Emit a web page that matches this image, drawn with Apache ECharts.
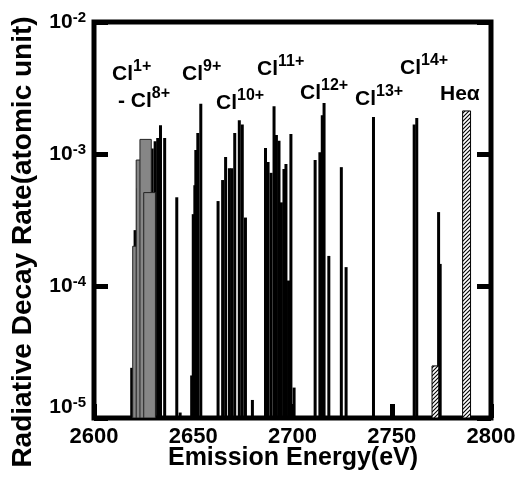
<!DOCTYPE html>
<html>
<head>
<meta charset="utf-8">
<script src="https://cdn.jsdelivr.net/npm/echarts@6/dist/echarts.min.js"></script>
<style>
html, body { margin: 0; padding: 0; background: #fff; }
#chart { width: 522px; height: 481px; }
</style>
</head>
<body>
<div id="chart"></div>
<script>
// transition lines (eV, atomic unit)
var lineEnergy = [2619.0, 2620.7, 2622.0, 2629.3, 2630.8, 2632.1, 2633.5, 2635.6,
  2641.7, 2643.4,
  2649.2, 2650.0, 2650.8, 2651.3, 2652.3, 2653.8,
  2662.5, 2664.8, 2666.3, 2668.2, 2669.4, 2670.9, 2673.2, 2674.7, 2676.3, 2679.8,
  2686.4, 2687.7, 2689.2, 2690.7, 2691.9, 2693.2, 2694.4, 2695.7, 2696.7, 2698.0, 2699.2, 2700.8,
  2711.4, 2713.8, 2715.0, 2715.9, 2718.3, 2724.6, 2727.0,
  2740.8,
  2761.3, 2762.6, 2773.6, 2774.4];
var lineRate = [2.4e-5, 2.65e-4, 5.5e-4, 1.1e-3, 1.25e-3, 1.32e-3, 1.65e-3, 1.32e-3,
  4.7e-4, 1.1e-5,
  2.1e-5, 3.5e-4, 5.8e-4, 1.07e-3, 1.44e-3, 2.4e-3,
  4.4e-4, 6.35e-4, 9.5e-4, 7.8e-4, 7.8e-4, 1.44e-3, 1.8e-3, 1.67e-3, 3.3e-4, 1.37e-5,
  1.11e-3, 8.7e-4, 7.2e-4, 2.3e-3, 1.39e-3, 1.26e-3, 4.3e-4, 7.7e-4, 8.4e-4, 1.1e-4, 1.42e-3, 1.7e-5,
  9.0e-4, 1.03e-3, 1.97e-3, 2.43e-3, 1.69e-4, 7.95e-4, 1.39e-4,
  1.91e-3,
  1.67e-3, 1.87e-3, 3.63e-4, 1.47e-4];

// Cl1+ - Cl8+ bands (grey)
var bandEnergy = [2620.6, 2622.5, 2626.0, 2628.0];
var bandRate = [2.0e-4, 9.0e-4, 1.29e-3, 5.1e-4];
var bandWidth = [2.2, 2.5, 5.7, 5.9];

// hatched (He-alpha etc.)
var hatchEnergy = [2772.0, 2787.7];
var hatchRate = [2.48e-5, 2.12e-3];
var hatchWidth = [3.4, 4.0];

var xTicks = [2600, 2800, 50];
var rateMin = 1e-5, rateMax = 1e-2;

var FONT = '"Liberation Sans", Arial, Helvetica, sans-serif';
var LINE_W = 3;

function zip(a, b, c) {
  return a.map(function (v, i) { return c ? [v, b[i], c[i]] : [v, b[i]]; });
}

// hatch pattern
var hatch = document.createElement('canvas');
hatch.width = 4; hatch.height = 4;
var hc = hatch.getContext('2d');
hc.fillStyle = '#fff';
hc.fillRect(0, 0, 4, 4);
hc.strokeStyle = '#000';
hc.lineWidth = 1.1;
hc.beginPath();
hc.moveTo(0, 4); hc.lineTo(4, 0);
hc.moveTo(-1, 1); hc.lineTo(1, -1);
hc.moveTo(3, 5); hc.lineTo(5, 3);
hc.stroke();

function renderLine(params, api) {
  var top = api.coord([api.value(0), api.value(1)]);
  var base = api.coord([api.value(0), rateMin]);
  return {
    type: 'rect',
    shape: { x: top[0] - LINE_W / 2, y: top[1], width: LINE_W, height: base[1] - top[1] },
    style: { fill: '#000' }
  };
}

function bandRenderer(fill, stroke) {
  return function (params, api) {
    var e = api.value(0), w = api.value(2);
    var tl = api.coord([e - w / 2, api.value(1)]);
    var br = api.coord([e + w / 2, rateMin]);
    return {
      type: 'rect',
      shape: { x: tl[0], y: tl[1], width: br[0] - tl[0], height: br[1] - tl[1] },
      style: { fill: fill, stroke: stroke, lineWidth: 1 }
    };
  };
}

function ionLabel(x, y, main, sup) {
  return {
    type: 'text', x: x, y: y, z: 10,
    style: {
      text: '{m|' + main + '}' + (sup ? '{s|' + sup + '}' : ''),
      align: 'left', verticalAlign: 'top',
      textAlign: 'left', textVerticalAlign: 'top',
      rich: {
        m: { fontFamily: FONT, fontWeight: 'bold', fontSize: 21, lineHeight: 31, fill: '#000' },
        s: { fontFamily: FONT, fontWeight: 'bold', fontSize: 16, lineHeight: 16, verticalAlign: 'top', fill: '#000' }
      }
    }
  };
}

var chart = echarts.init(document.getElementById('chart'));

var yLabel = {
  fontFamily: FONT,
  margin: 8,
  formatter: function (v) {
    var p = Math.round(Math.log(v) / Math.LN10);
    if (p === -5) return '{b|10}{s|' + p + '}\n{g| }';
    return '{b|10}{s|' + p + '}';
  },
  rich: {
    b: { fontFamily: FONT, fontWeight: 'bold', fontSize: 21, lineHeight: 24, color: '#000' },
    s: { fontFamily: FONT, fontWeight: 'bold', fontSize: 15, lineHeight: 15, verticalAlign: 'top', color: '#000' },
    g: { fontSize: 10, lineHeight: 22 }
  }
};

var tick = { show: true, inside: true, length: 14, lineStyle: { color: '#000', width: 5 } };

option = {
  backgroundColor: '#fff',
  animation: false,
  grid: {
    left: 94, right: 31, top: 22, bottom: 63,
    show: true, borderColor: '#000', borderWidth: 5,
    outerBoundsMode: 'none'
  },
  xAxis: {
    type: 'value', min: xTicks[0], max: xTicks[1], interval: xTicks[2],
    axisLine: { show: false },
    axisTick: tick,
    splitLine: { show: false },
    axisLabel: {
      fontFamily: FONT, fontWeight: 'bold', fontSize: 22, color: '#000', margin: 8,
      formatter: function (v) { return String(v); }
    }
  },
  yAxis: [{
    type: 'log', logBase: 10, min: rateMin, max: rateMax,
    axisLine: { show: false },
    axisTick: tick,
    minorTick: { show: false },
    splitLine: { show: false },
    axisLabel: yLabel
  }, {
    type: 'log', logBase: 10, min: rateMin, max: rateMax, position: 'right',
    axisLine: { show: false },
    axisTick: tick,
    splitLine: { show: false },
    axisLabel: { show: false }
  }],
  series: [{
    type: 'custom', renderItem: renderLine, clip: true,
    encode: { x: 0, y: 1 },
    data: zip(lineEnergy, lineRate), z: 2
  }, {
    type: 'custom', renderItem: bandRenderer('#868686', '#222'), clip: true,
    encode: { x: 0, y: 1 },
    data: zip(bandEnergy, bandRate, bandWidth), z: 3
  }, {
    type: 'custom', renderItem: bandRenderer({ image: hatch, repeat: 'repeat' }, '#000'), clip: true,
    encode: { x: 0, y: 1 },
    data: zip(hatchEnergy, hatchRate, hatchWidth), z: 3
  }],
  graphic: [
    ionLabel(112, 59, 'Cl', '1+'),
    ionLabel(118, 86, '- Cl', '8+'),
    ionLabel(182, 59, 'Cl', '9+'),
    ionLabel(216, 88, 'Cl', '10+'),
    ionLabel(257, 54, 'Cl', '11+'),
    ionLabel(300, 78, 'Cl', '12+'),
    ionLabel(355, 84, 'Cl', '13+'),
    ionLabel(400, 53, 'Cl', '14+'),
    ionLabel(440, 79, 'He\u03b1', ''),
    {
      type: 'text', x: 23, y: 242, rotation: Math.PI / 2,
      style: {
        text: 'Radiative Decay Rate(atomic unit)',
        font: 'bold 28px ' + FONT, fill: '#000',
        align: 'center', verticalAlign: 'middle',
        textAlign: 'center', textVerticalAlign: 'middle'
      }
    },
    {
      type: 'text', x: 293, y: 458,
      style: {
        text: 'Emission Energy(eV)',
        font: 'bold 25px ' + FONT, fill: '#000',
        align: 'center', verticalAlign: 'middle',
        textAlign: 'center', textVerticalAlign: 'middle'
      }
    }
  ]
};

chart.setOption(option);
</script>
</body>
</html>
